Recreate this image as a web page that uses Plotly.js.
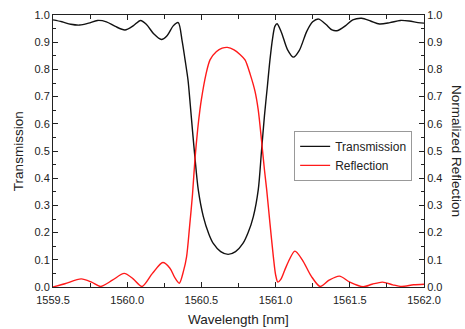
<!DOCTYPE html>
<html>
<head>
<meta charset="utf-8">
<script src="https://cdn.plot.ly/plotly-3.0.1.min.js"></script>
<style>html,body{margin:0;padding:0;background:#fff;}#chart{width:465px;height:329px;}</style>
</head>
<body>
<div id="chart"></div>
<script>
// Transmission (black)
const transWavelength = [1559.50,1559.56,1559.62,1559.68,1559.74,1559.80,1559.86,1559.92,1559.985,1560.04,1560.09,1560.13,1560.18,1560.23,1560.27,1560.31,1560.344,1560.37,1560.39,1560.41,1560.425,1560.44,1560.457,1560.479,1560.513,1560.55,1560.58,1560.63,1560.68,1560.73,1560.78,1560.815,1560.85,1560.883,1560.905,1560.925,1560.945,1560.962,1560.98,1560.995,1561.01,1561.04,1561.08,1561.12,1561.16,1561.21,1561.25,1561.29,1561.34,1561.38,1561.42,1561.47,1561.52,1561.58,1561.64,1561.70,1561.77,1561.84,1561.90,1561.96,1562.00];
const transmission = [0.982,0.975,0.966,0.963,0.970,0.980,0.975,0.958,0.945,0.960,0.980,0.965,0.930,0.910,0.925,0.960,0.972,0.905,0.835,0.760,0.670,0.575,0.473,0.357,0.259,0.195,0.160,0.130,0.120,0.130,0.160,0.200,0.259,0.357,0.500,0.630,0.740,0.835,0.915,0.958,0.968,0.935,0.873,0.845,0.870,0.940,0.975,0.985,0.965,0.945,0.943,0.960,0.982,0.988,0.978,0.967,0.972,0.980,0.978,0.972,0.970];
// Reflection (red)
const reflWavelength = [1559.50,1559.58,1559.69,1559.76,1559.82,1559.90,1559.98,1560.04,1560.10,1560.17,1560.24,1560.288,1560.32,1560.351,1560.38,1560.40,1560.42,1560.44,1560.457,1560.475,1560.49,1560.50,1560.53,1560.558,1560.60,1560.64,1560.675,1560.72,1560.76,1560.794,1560.83,1560.861,1560.883,1560.906,1560.925,1560.94,1560.962,1560.985,1561.00,1561.015,1561.035,1561.06,1561.086,1561.13,1561.18,1561.24,1561.30,1561.36,1561.43,1561.50,1561.59,1561.65,1561.72,1561.79,1561.85,1561.93,1562.00];
const reflection = [0.000,0.012,0.030,0.018,0.002,0.025,0.050,0.030,0.002,0.050,0.090,0.069,0.035,0.014,0.060,0.111,0.220,0.340,0.473,0.580,0.651,0.690,0.780,0.835,0.865,0.878,0.881,0.872,0.855,0.835,0.780,0.720,0.651,0.534,0.430,0.357,0.234,0.111,0.045,0.018,0.028,0.060,0.093,0.132,0.100,0.040,0.002,0.025,0.040,0.018,0.001,0.010,0.018,0.008,0.002,0.008,0.010];

const xTicks = [1559.5,1560.0,1560.5,1561.0,1561.5,1562.0];
const xTickLabels = ["1559.5","1560.0","1560.5","1561.0","1561.5","1562.0"];
const yTicks = [0,0.1,0.2,0.3,0.4,0.5,0.6,0.7,0.8,0.9,1.0];
const yTickLabels = ["0.0","0.1","0.2","0.3","0.4","0.5","0.6","0.7","0.8","0.9","1.0"];

const FONT = "Liberation Sans, Arial, sans-serif";
const traces = [
  {x: transWavelength, y: transmission, name: "Transmission", type: "scatter", mode: "lines",
   line: {color: "#111111", width: 1.4, shape: "spline", smoothing: 0.8}, xaxis: "x", yaxis: "y"},
  {x: reflWavelength, y: reflection, name: "Reflection", type: "scatter", mode: "lines",
   line: {color: "#ff1a1a", width: 1.4, shape: "spline", smoothing: 0.8}, xaxis: "x", yaxis: "y2"}
];
const yCommon = {
  range: [0, 1], tickvals: yTicks, ticktext: yTickLabels, ticks: "inside", ticklen: 5, tickwidth: 1,
  tickcolor: "#222", showline: true, linecolor: "#222", linewidth: 1, showgrid: false, zeroline: false,
  tickfont: {family: FONT, size: 11, color: "#222"},
  minor: {ticks: "inside", tickvals: [0.05,0.15,0.25,0.35,0.45,0.55,0.65,0.75,0.85,0.95], ticklen: 3, tickcolor: "#222", showgrid: false}
};
const layout = {
  width: 465, height: 329,
  margin: {l: 53, r: 41, t: 15, b: 42},
  paper_bgcolor: "#fff", plot_bgcolor: "#fff",
  showlegend: true,
  font: {family: FONT, color: "#222"},
  xaxis: {
    range: [1559.5, 1562.0], tickvals: xTicks, ticktext: xTickLabels, ticks: "inside", ticklen: 5,
    tickcolor: "#222", showline: true, linecolor: "#222", linewidth: 1, mirror: "ticks",
    showgrid: false, zeroline: false, tickfont: {family: FONT, size: 11, color: "#222"},
    ticklabelstandoff: 3,
    minor: {ticks: "inside", tickvals: [1559.75,1560.25,1560.75,1561.25,1561.75], ticklen: 4, tickcolor: "#222", showgrid: false}
  },
  yaxis: Object.assign({}, yCommon, {side: "left"}),
  yaxis2: Object.assign({}, yCommon, {side: "right", overlaying: "y"}),
  legend: {x: 0.65, y: 0.574, xanchor: "left", yanchor: "top", bgcolor: "#fff",
    bordercolor: "#999", borderwidth: 1, font: {family: FONT, size: 12, color: "#222"},
    tracegroupgap: 0},
  annotations: [
    {text: "Wavelength [nm]", xref: "paper", yref: "paper", x: 0.501, y: -0.12, xanchor: "center", yanchor: "middle",
     showarrow: false, font: {family: FONT, size: 13.5, color: "#222"}},
    {text: "Transmission", xref: "paper", yref: "paper", x: -0.094, y: 0.5, xanchor: "center", yanchor: "middle",
     textangle: -90, showarrow: false, font: {family: FONT, size: 13.5, color: "#222"}},
    {text: "Normalized Reflection", xref: "paper", yref: "paper", x: 1.089, y: 0.5, xanchor: "center", yanchor: "middle",
     textangle: 90, showarrow: false, font: {family: FONT, size: 13.5, color: "#222"}}
  ]
};
Plotly.newPlot("chart", traces, layout, {staticPlot: true, displayModeBar: false});
</script>
</body>
</html>
